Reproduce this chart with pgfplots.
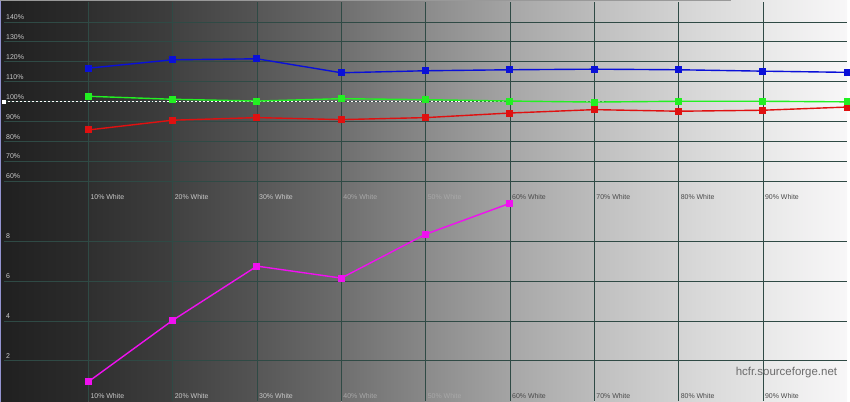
\documentclass[border=0pt]{standalone}
\usepackage{fontspec}
\setmainfont{Liberation Sans}
\usepackage{pgfplots}
\pgfplotsset{compat=1.18}
\definecolor{gridc}{HTML}{2F4A45}
\definecolor{lblL}{HTML}{C8C8C8}
\definecolor{lblM}{HTML}{A8A8A8}
\definecolor{lblD}{HTML}{4A4A4A}
\definecolor{ser1}{HTML}{0A10D8}
\definecolor{ser2}{HTML}{22F022}
\definecolor{ser3}{HTML}{E01010}
\definecolor{ser4}{HTML}{F010F0}
\pgfplotsset{
  hcfr/.style={
    scale only axis, width=846pt, height=200pt,
    xmin=0, xmax=100, xtick={10,20,...,90},
    axis line style={draw=none},
    major tick length=0pt,
    grid=major, grid style={color=gridc, line width=0.8pt},
    tick label style={font=\fontsize{7}{8}\selectfont, inner sep=0pt},
    xticklabel style={anchor=base west, xshift=2pt, yshift=2pt},
    yticklabel style={anchor=base west, xshift=2pt, yshift=2.5pt, color=lblL},
    xticklabels={\textcolor{lblL}{10\% White},\textcolor{lblL}{20\% White},\textcolor{lblL}{30\% White},\textcolor{lblM}{40\% White},\textcolor{lblM}{50\% White},\textcolor{lblD}{60\% White},\textcolor{lblD}{70\% White},\textcolor{lblD}{80\% White},\textcolor{lblD}{90\% White}},
    every axis plot/.append style={line width=1.4pt, mark=square*, mark size=2.8pt},
    clip=false,
  }
}
\begin{document}
\begin{tikzpicture}
\foreach \xa/\xb/\cl/\cr in {0/88.8/202020/2C2C2C, 88.6/173.4/2F2F2F/3E3E3E, 173.2/258/414141/545454, 257.8/342.6/575757/6C6C6C, 342.4/427.2/6F6F6F/888888, 427/511.8/8B8B8B/A4A4A4, 511.6/596.4/A7A7A7/BCBCBC, 596.2/681/BFBFBF/D2D2D2, 680.8/765.6/D4D4D4/E5E5E5, 765.4/850/E8E8E8/F8F7F8} {
  \definecolor{cL}{HTML}{\cl}\definecolor{cR}{HTML}{\cr}
  \shade[left color=cL, right color=cR] (\xa pt,0pt) rectangle (\xb pt,403pt);
}
\fill[color=gray!60!blue!60] (0pt,0pt) rectangle (1.5pt,403pt);
\fill[color=gray!80] (0pt,401.5pt) rectangle (733pt,403pt);
\begin{axis}[hcfr, at={(4pt,201pt)}, anchor=south west,
  ymin=50, ymax=150, ytick={60,70,...,140},
  yticklabels={60\%,70\%,80\%,90\%,100\%,110\%,120\%,130\%,140\%}]
\addplot[white, line width=0.7pt, dash pattern=on 2pt off 2pt, mark=square*, mark size=1.4pt, mark indices={1}, mark options={solid}] coordinates {(0,100) (100,100)};
\addplot[color=ser3, mark options={fill=ser3}] coordinates {(10,85.8) (20,90.7) (30,92) (40,91) (50,92) (60,94.3) (70,96) (80,95.2) (90,95.7) (100,97.3)};
\addplot[color=ser2, mark options={fill=ser2}] coordinates {(10,102.7) (20,101.2) (30,100.3) (40,101.5) (50,101) (60,100.3) (70,99.8) (80,100.2) (90,100.2) (100,99.9)};
\addplot[color=ser1, mark options={fill=ser1}] coordinates {(10,116.8) (20,121) (30,121.5) (40,114.5) (50,115.5) (60,116) (70,116.3) (80,116) (90,115.3) (100,114.7)};
\end{axis}
\begin{axis}[hcfr, at={(4pt,1pt)}, anchor=south west,
  ymin=0, ymax=10, ytick={2,4,6,8},
  yticklabels={2,4,6,8}]
\addplot[color=ser4, mark options={fill=ser4}] coordinates {(10,0.95) (20,4.03) (30,6.75) (40,6.15) (50,8.35) (60,9.9)};
\end{axis}
\node[font=\fontsize{11.5}{13}\selectfont, text=gray!85!black, anchor=center] at (789pt,29pt) {hcfr.sourceforge.net};
\end{tikzpicture}
\end{document}
